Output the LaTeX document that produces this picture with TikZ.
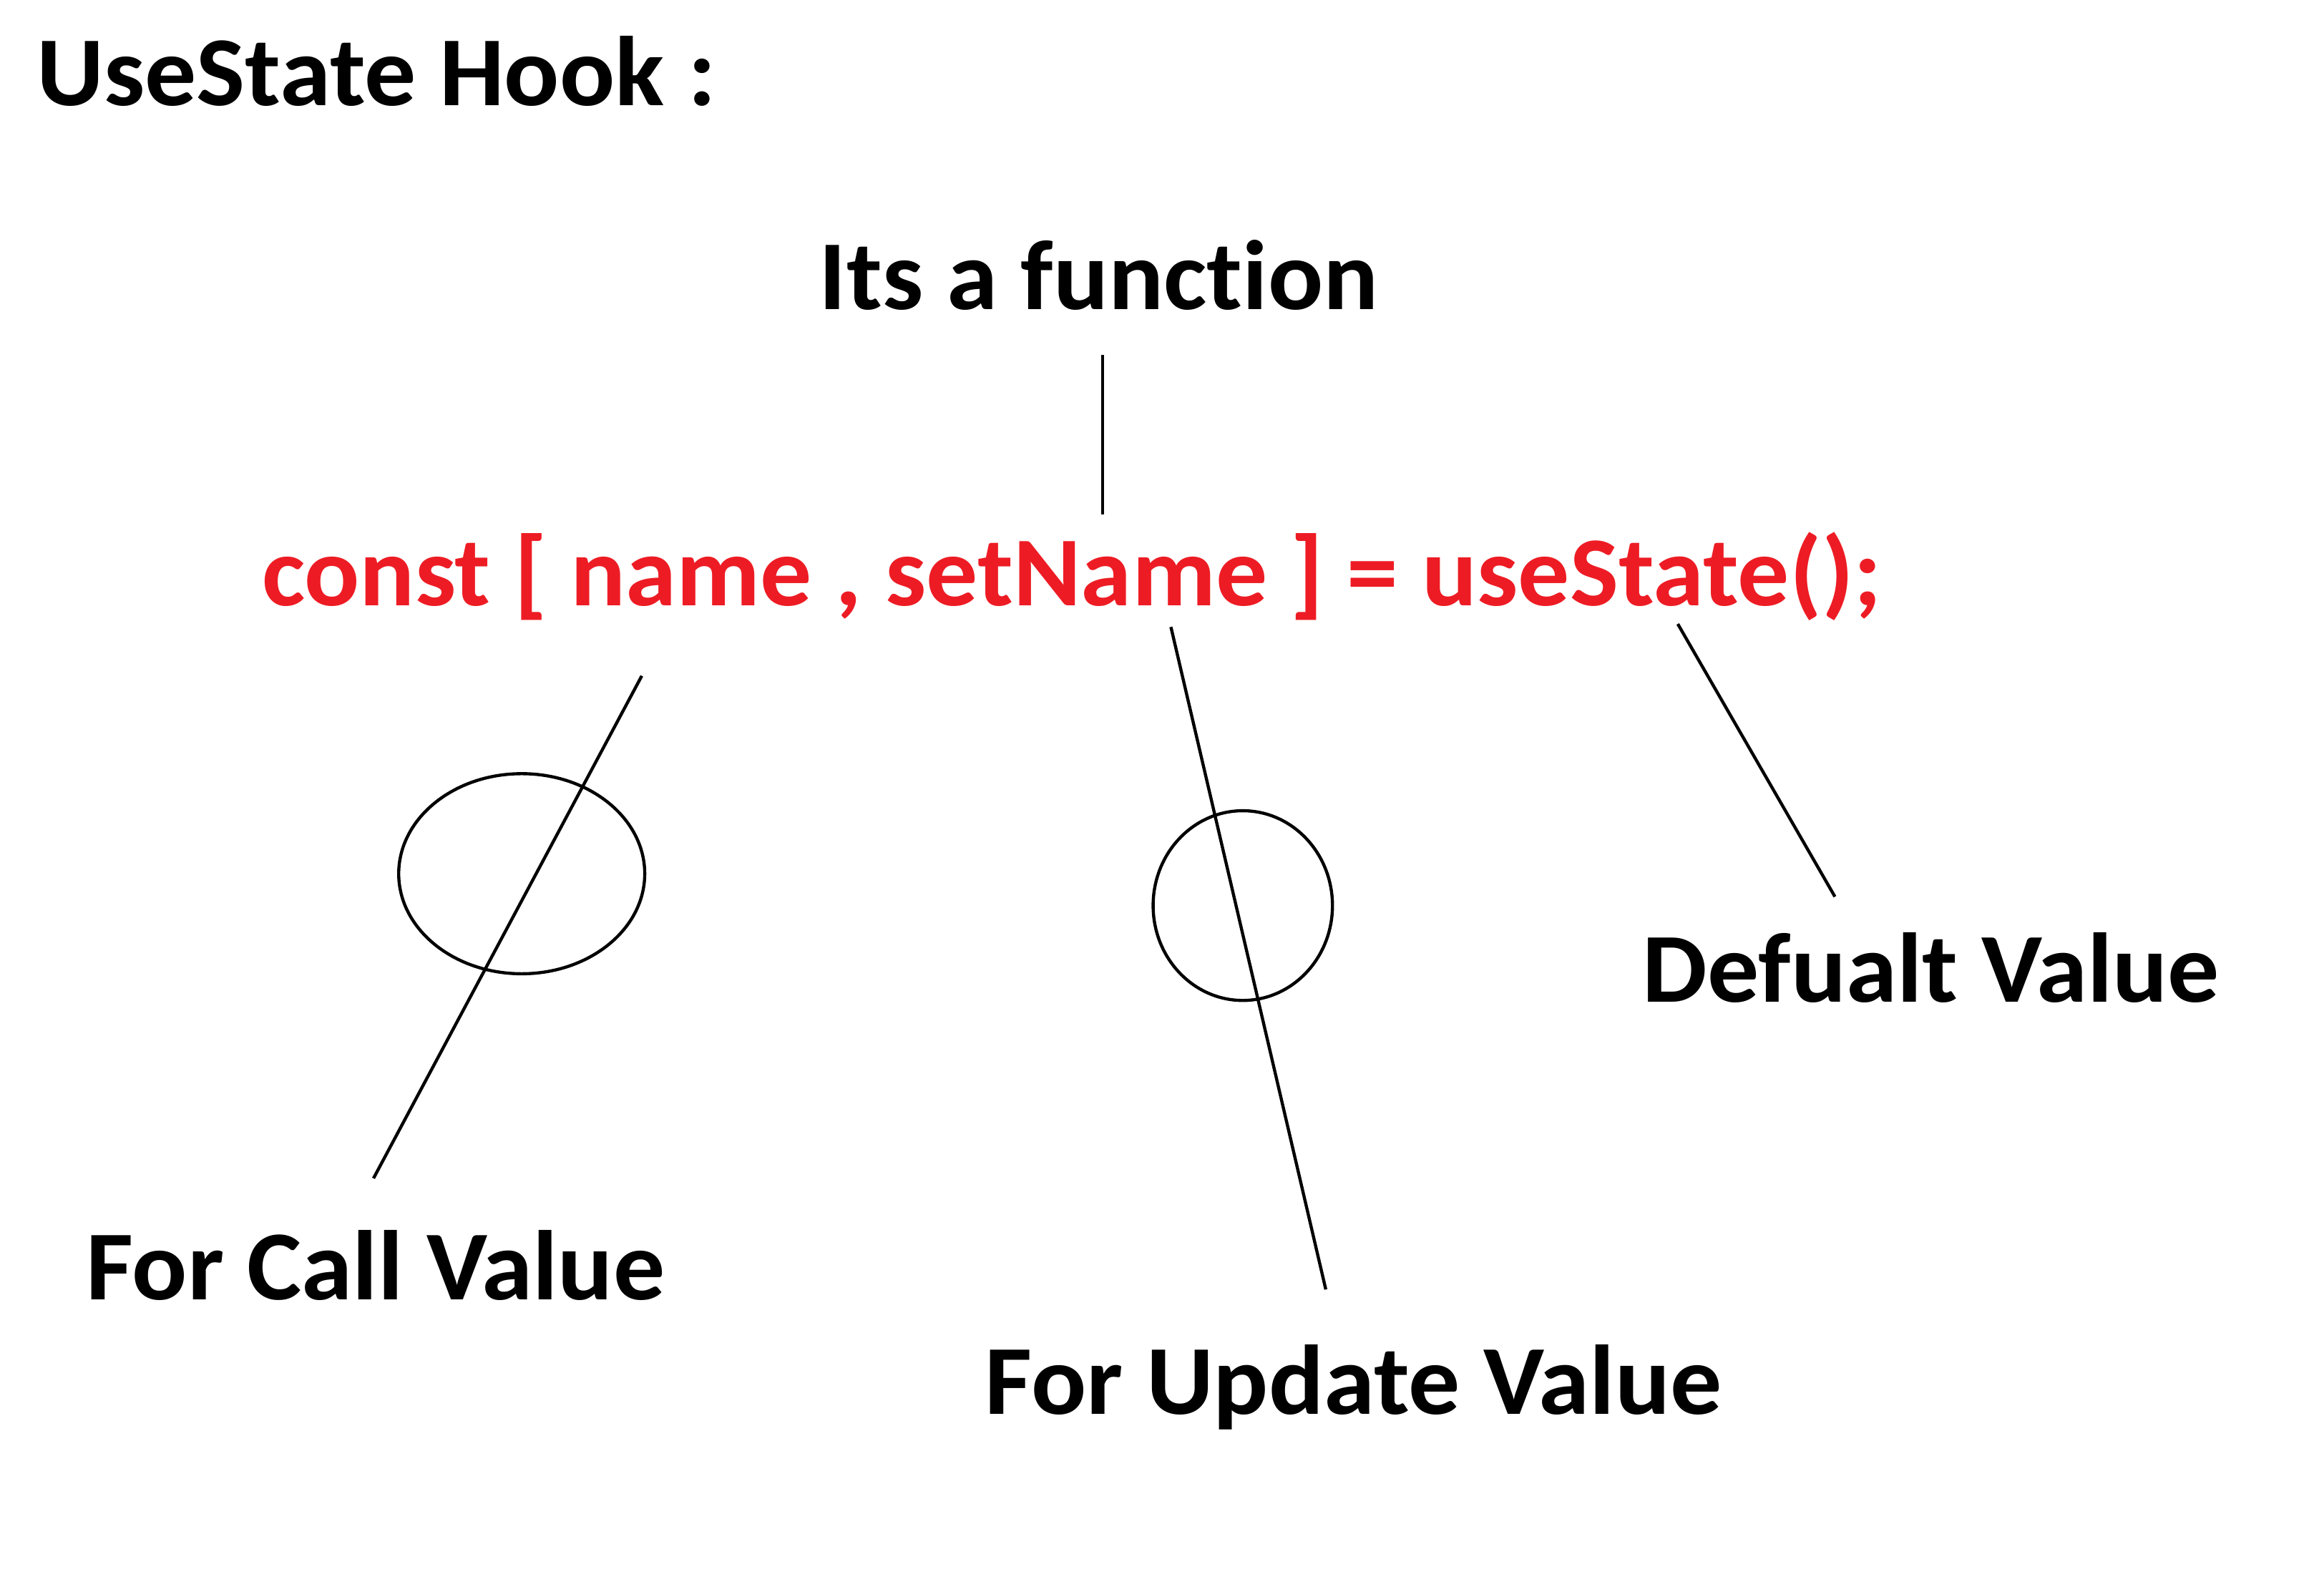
\documentclass[tikz,border=0pt]{standalone}
\usepackage{fontspec}
\setmainfont{Carlito}[Ligatures=NoCommon, FakeStretch=1.04]
\usepackage{xcolor}
\usetikzlibrary{shapes.geometric}
\definecolor{codered}{RGB}{237,28,36}
\tikzset{
  notetext/.style={anchor=base west, inner sep=0pt, font=\fontsize{19}{23}\selectfont\bfseries},
  pointer/.style={line width=0.6pt},
  ring/.style={draw, ellipse, line width=0.6pt, inner sep=0pt}
}
\begin{document}
\begin{tikzpicture}
                \useasboundingbox (0,0) rectangle (15.68,-10.74);
                % texts
                \node [notetext] (title) at (0.24,-0.71) {UseState Hook :};
                \node [notetext] (func) at (5.52,-2.09) {Its a function};
                \node [notetext, text=codered] (code) at (1.76,-4.085) {const [ name , setName ] = useState();};
                \node [notetext] (defval) at (11.075,-6.76) {Defualt Value};
                \node [notetext] (callval) at (0.575,-8.77) {For Call Value};
                \node [notetext] (updval) at (6.64,-9.54) {For Update Value};
                % rings
                \node [ring, minimum width=1.66cm, minimum height=1.35cm] (callring) at (3.52,-5.895) {};
                \node [ring, minimum width=1.21cm, minimum height=1.28cm] (updring) at (8.385,-6.11) {};
                % line ends
                \coordinate (functop) at (7.44,-2.395);
                \coordinate (funcbot) at (7.44,-3.47);
                \coordinate (calltop) at (4.33,-4.56);
                \coordinate (callend) at (2.52,-7.95);
                \coordinate (updtop) at (7.90,-4.23);
                \coordinate (updend) at (8.945,-8.70);
                \coordinate (deftop) at (11.32,-4.21);
                \coordinate (defend) at (12.38,-6.05);
                \draw [pointer] (functop) -- (funcbot);
                \draw [pointer] (calltop) -- (callend);
                \draw [pointer] (updtop) -- (updend);
                \draw [pointer] (deftop) -- (defend);
            \end{tikzpicture}
\end{document}
